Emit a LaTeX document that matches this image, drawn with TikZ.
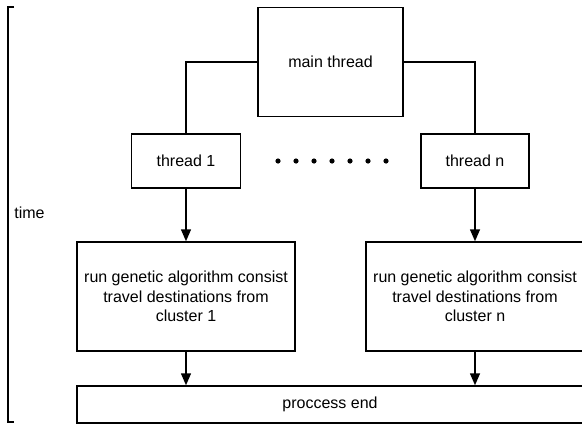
\documentclass[tikz,border=0pt]{standalone}
\usepackage{fontspec}
\setmainfont{Liberation Sans}
\usetikzlibrary{arrows.meta}
\begin{document}
\begin{tikzpicture}[x=0.75pt,y=-0.75pt,line width=1.1pt,
    box/.style={draw,inner sep=0pt,align=center,font=\fontsize{12}{14.6}\selectfont},
    arr/.style={-{Triangle[width=7.5pt,length=9pt]}}]
      \useasboundingbox (0,0) rectangle (582,425);
      \draw
        (330.5,62) node[box,minimum width=108.75pt,minimum height=81.75pt] (main){main thread}
        (186,161) node[box,minimum width=81.75pt,minimum height=40.5pt] (t1){thread 1}
        (475,161) node[box,minimum width=81pt,minimum height=40.5pt] (tn){thread n}
        (186,296.5) node[box,minimum width=163.5pt,minimum height=81.75pt] (ga1){run genetic algorithm consist\\travel destinations from\\cluster 1}
        (475,296.5) node[box,minimum width=163.5pt,minimum height=81.75pt] (gan){run genetic algorithm consist\\travel destinations from\\cluster n}
        (330,404.5) node[box,minimum width=379.5pt,minimum height=27.75pt] (end){proccess end}
        (29.5,213) node[font=\fontsize{12}{14.6}\selectfont] (time){time};
      \fill
        (278,161) circle (2.6) (296,161) circle (2.6) (314,161) circle (2.6)
        (332,161) circle (2.6) (350,161) circle (2.6) (368,161) circle (2.6)
        (386,161) circle (2.6);
      \draw (14,7) -- (8,7) -- (8,422) -- (14,422);
      \begin{scope}[-]
        \draw (main.west) -| (t1.north);
        \draw (main.east) -| (tn.north);
        \draw[arr] (t1) to (ga1);
        \draw[arr] (tn) to (tn |- gan.north);
        \draw[arr] (ga1) to (ga1 |- end.north);
        \draw[arr] (gan) to (gan |- end.north);
      \end{scope}
    \end{tikzpicture}
\end{document}
